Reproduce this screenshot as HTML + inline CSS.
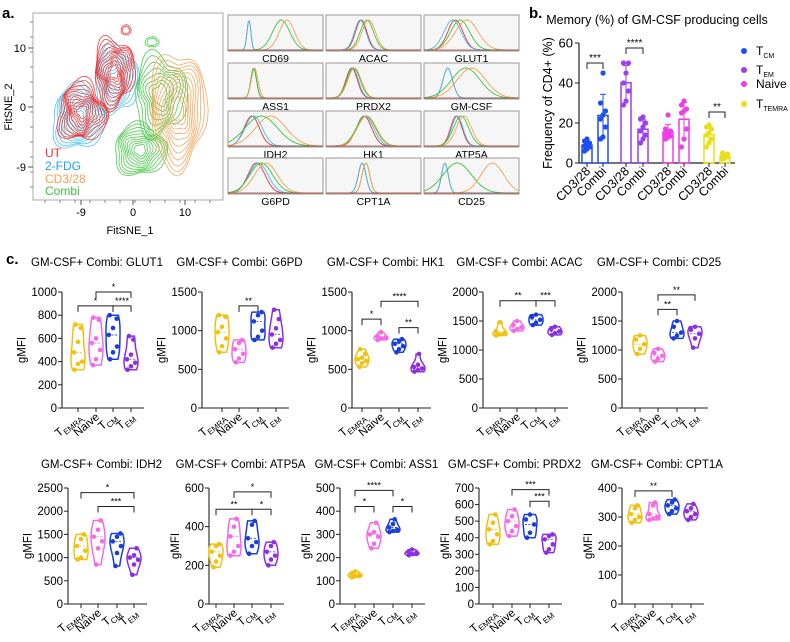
<!DOCTYPE html>
<html><head><meta charset="utf-8"><style>
html,body{margin:0;padding:0;background:#fff;}
svg{display:block;font-family:"Liberation Sans",Arial,sans-serif;}
</style></head><body>
<svg id="fig" width="790" height="642" viewBox="0 0 790 642" xmlns="http://www.w3.org/2000/svg">
<text x="2" y="18" font-size="15" font-weight="bold">a.</text>
<text x="529" y="18" font-size="15" font-weight="bold">b.</text>
<text x="6" y="264" font-size="15" font-weight="bold">c.</text>
<g id="tsne"></g>
<g id="hist"></g>
<g id="pb"></g>
<g id="pc"></g>
</svg>
<script>
// ---------- Panel b data ----------
const bGroups = ['TCM','TEM','Naive','TTEMRA'];
const bConds = ['CD3/28','Combi'];
const bTcmCD = [6,7,8,8.5,9,10,11,12];
const bTcmCombi = [12,13,18,22,24,26,30,45];
const bTemCD = [29,31,36,40,45,50,50];
const bTemCombi = [10,12,14,16,18,20,22,23];
const bNaiveCD = [12,13,13.5,14,15,16,17,24];
const bNaiveCombi = [8,12,17,25,26,27,29,31];
const bTemraCD = [8,10,12,14,15,17,18,19];
const bTemraCombi = [2,2.5,3,3.5,4,4.5,5];
const bTicks = [0,20,40,60];
const bSig = [{a:0,y:50,t:'***'},{a:2,y:57.5,t:'****'},{a:6,y:25.5,t:'**'}];

// ---------- Panel c data ----------
const vCats = ['TEMRA','Naive','TCM','TEM'];
const vTitles = ['GLUT1','G6PD','HK1','ACAC','CD25','IDH2','ATP5A','ASS1','PRDX2','CPT1A'];
const vMax = [1000,1500,1500,2000,2000,2500,600,500,700,400];
const vStep = [200,500,500,500,500,500,200,100,100,100];
const vGLUT1 = [[330,380,400,480,570,690,720],[370,420,500,560,600,760,780],[420,480,530,630,690,770,800],[330,360,390,420,460,590,620]];
const vG6PD = [[720,800,900,980,1050,1180,1200],[590,640,700,760,840,880],[880,920,1000,1120,1200,1240],[780,830,880,950,1030,1150,1270]];
const vHK1 = [[530,580,610,630,650,700,760],[880,900,910,930,980],[720,760,800,830,860,890],[470,490,510,530,560,700]];
const vACAC = [[1250,1270,1290,1320,1480],[1330,1360,1390,1430,1500],[1430,1470,1520,1570,1610],[1260,1290,1320,1360,1400]];
const vCD25 = [[930,1020,1100,1180,1250],[800,850,900,950,1020],[1200,1250,1300,1400,1500],[1040,1200,1280,1350,1400]];
const vIDH2 = [[960,1000,1150,1250,1400,1500],[850,1200,1350,1450,1600,1800],[820,1100,1250,1350,1450,1520],[630,850,950,1000,1050,1200]];
const vATP5A = [[190,220,250,270,300,310],[250,270,300,350,400,440],[260,300,320,340,410,430],[200,230,250,270,300,320]];
const vASS1 = [[115,120,125,130,140],[240,260,290,300,310,350],[310,315,320,330,345,365],[210,215,220,225,235]];
const vPRDX2 = [[360,380,420,450,490,540],[410,440,470,500,530,570],[400,430,480,510,540],[310,330,360,390,410,420]];
const vCPT1A = [[280,290,300,310,330,340],[290,295,300,310,340,350],[310,320,330,340,350,360],[290,300,310,320,330,345]];
const vSig = [
 [{a:0,b:2,y:880,t:'*'},{a:1,b:3,y:1000,t:'*'},{a:2,b:3,y:880,t:'****'}],
 [{a:1,b:2,y:1320,t:'**'}],
 [{a:0,b:1,y:1150,t:'*'},{a:1,b:3,y:1380,t:'****'},{a:2,b:3,y:1040,t:'**'}],
 [{a:0,b:2,y:1850,t:'**'},{a:2,b:3,y:1850,t:'***'}],
 [{a:1,b:2,y:1700,t:'**'},{a:1,b:3,y:1950,t:'**'}],
 [{a:0,b:3,y:2400,t:'*'},{a:1,b:3,y:2100,t:'***'}],
 [{a:0,b:2,y:490,t:'**'},{a:1,b:3,y:580,t:'*'},{a:2,b:3,y:490,t:'*'}],
 [{a:0,b:2,y:490,t:'****'},{a:0,b:1,y:420,t:'*'},{a:2,b:3,y:420,t:'*'}],
 [{a:1,b:3,y:690,t:'***'},{a:2,b:3,y:620,t:'***'}],
 [{a:0,b:2,y:390,t:'**'}]
];

// ---------- Histogram data (peak position 0-1, width) order: UT, 2-FDG, CD3/28, Combi ----------
const hMarkers = ['CD69','ACAC','GLUT1','ASS1','PRDX2','GM-CSF','IDH2','HK1','ATP5A','G6PD','CPT1A','CD25'];
const hPeaks = [[.22,.22,.62,.56],[.37,.36,.45,.43],[.33,.3,.45,.38],[.27,.27,.28,.27],[.27,.28,.3,.29],[.25,.25,.5,.44],[.25,.27,.45,.35],[.4,.41,.43,.42],[.34,.35,.42,.39],[.3,.32,.4,.35],[.38,.38,.42,.42],[.22,.22,.72,.35]];
const hWidths = [[.02,.02,.08,.09],[.06,.06,.07,.07],[.08,.09,.12,.1],[.03,.03,.035,.03],[.06,.06,.07,.07],[.05,.05,.15,.15],[.08,.09,.16,.17],[.08,.09,.1,.1],[.06,.06,.08,.08],[.09,.1,.12,.12],[.04,.04,.04,.04],[.035,.035,.12,.15]];

const NS='http://www.w3.org/2000/svg';
function mk(parent,tag,attrs,text){const e=document.createElementNS(NS,tag);for(const k in attrs)e.setAttribute(k,attrs[k]);if(text!==undefined)e.textContent=text;parent.appendChild(e);return e;}

// ---------- Panel a: tSNE ----------
(function(){
 const g=document.getElementById('tsne');
 const fr=mk(g,'rect',{x:33,y:13,width:190,height:187,fill:'none',stroke:'#aaa','stroke-width':1});
 
 
 const xt=[['-9',81],['0',133],['10',185]], yt=[['10',48],['0',107],['-9',167]];
 xt.forEach(t=>{mk(g,'line',{x1:t[1],x2:t[1],y1:200,y2:205,stroke:'#555'});const e=mk(g,'text',{x:t[1],y:216,'font-size':11,'text-anchor':'middle'},t[0]);});
 yt.forEach(t=>{mk(g,'line',{x1:28,x2:33,y1:t[1],y2:t[1],stroke:'#555'});const e=mk(g,'text',{x:26,y:t[1]+4,'font-size':11,'text-anchor':'end'},t[0]);});
 for(let i=0;i<12;i++){mk(g,'line',{x1:30,x2:33,y1:22+i*15,y2:22+i*15,stroke:'#888'});mk(g,'line',{x1:45+i*15,x2:45+i*15,y1:200,y2:203,stroke:'#888'});}
 const xl=mk(g,'text',{x:130,y:234,'font-size':11,'text-anchor':'middle'},'FitSNE_1');
 const yl=mk(g,'text',{x:12,y:107,'font-size':11,'text-anchor':'middle',transform:'rotate(-90 12 107)'},'FitSNE_2');
 function blob(cx,cy,rx,ry,ph,n,color,amp){
  for(let l=0;l<n;l++){const s=1-l/(n+1.5);let d='';
   for(let k=0;k<=40;k++){const a=k/40*Math.PI*2;const r=1+amp*Math.sin(3*a+ph+l*0.4)+amp*0.6*Math.cos(5*a+ph*2-l*0.3);
    const x=cx+rx*s*r*Math.cos(a),y=cy+ry*s*r*Math.sin(a);d+=(k?'L':'M')+x.toFixed(1)+' '+y.toFixed(1);}
   mk(g,'path',{d:d+'Z',fill:'none',stroke:color,'stroke-width':0.8,opacity:0.9});}
 }
 const cy='#3ec0f0',rd='#ee3030',or='#f5a050',gr='#3cc43c';
 blob(78,118,26,32,0.5,9,cy,0.12); blob(116,80,22,34,1.2,8,cy,0.12);
 blob(82,112,24,30,0.2,11,rd,0.15); blob(114,72,20,34,2.0,11,rd,0.14);
 blob(140,150,26,26,0.8,10,gr,0.1); blob(160,95,26,40,1.5,8,gr,0.14); blob(152,42,7,5,0,2,gr,0.05);
 blob(178,110,28,58,2.5,11,or,0.1);
 blob(126,30,5,5,0,2,rd,0.05);
 const leg=[['UT',rd,153],['2-FDG','#1aa8e8',166],['CD3/28',or,179],['Combi',gr,191]];
 leg.forEach(l=>{const e=mk(g,'text',{x:45,y:l[2]+4,'font-size':12,fill:l[1]},l[0]);});
})();

// ---------- Histogram grid ----------
(function(){
 const g=document.getElementById('hist');
 const cols=[228,326,424], rows=[15,63,111,158], W=95, H=36;
 const colors=['#ee3030','#3ec0f0','#f5a050','#3cc43c'];
 hMarkers.forEach((m,i)=>{
  const x0=cols[i%3], y0=rows[Math.floor(i/3)];
  const r=mk(g,'rect',{x:x0,y:y0,width:W,height:H,fill:'#f6f6f6',stroke:'#999','stroke-width':1});
  
  
  [0,1,3,2].forEach(c=>{
   const p=hPeaks[i][c], w=hWidths[i][c]; let d='';
   for(let k=0;k<=80;k++){const t=k/80;const v=Math.exp(-0.5*Math.pow((t-p)/w,2));
    d+=(k?'L':'M')+(x0+t*W).toFixed(1)+' '+(y0+H-1-v*(H-6)).toFixed(1);}
   const pa=mk(g,'path',{d:d,fill:'none',stroke:colors[c],'stroke-width':0.9});
   
   
  });
  mk(g,'line',{x1:x0,x2:x0+W,y1:y0+H-1,y2:y0+H-1,stroke:'#a04040','stroke-width':0.8});
  const t=mk(g,'text',{x:x0+W/2,y:y0+H+11,'font-size':10.5,'text-anchor':'middle'},m);
  
  
 });
})();

// ---------- Panel b ----------
(function(){
 const g=document.getElementById('pb');
 const X0=579, Y0=163, Y1=43, yMax=60;
 const ys=v=>Y0-(v/yMax)*(Y0-Y1);
 const xs=[587,603,626,643,668,684,709,725];
 const cols=['#1e4ff0','#9b3ff0','#f03ee6','#eadf1a'];
 const series=[bTcmCD,bTcmCombi,bTemCD,bTemCombi,bNaiveCD,bNaiveCombi,bTemraCD,bTemraCombi];
 const tt=mk(g,'text',{x:657,y:24,'font-size':12.5,'text-anchor':'middle'},'Memory (%) of GM-CSF producing cells');
 
 mk(g,'line',{x1:X0,x2:X0,y1:Y1,y2:Y0,stroke:'#222','stroke-width':1.2});
 mk(g,'line',{x1:X0,x2:735,y1:Y0,y2:Y0,stroke:'#222','stroke-width':1.2});
 bTicks.forEach(v=>{mk(g,'line',{x1:X0-4,x2:X0,y1:ys(v),y2:ys(v),stroke:'#222'});
  const e=mk(g,'text',{x:X0-6,y:ys(v)+4.5,'font-size':13,'text-anchor':'end'},v);});
 const yl=mk(g,'text',{x:552,y:103,'font-size':12.5,'text-anchor':'middle',transform:'rotate(-90 552 103)'},'Frequency of  CD4+ (%)');
 
 series.forEach((s,i)=>{
  const col=cols[Math.floor(i/2)], x=xs[i];
  const mean=s.reduce((a,b)=>a+b,0)/s.length;
  const sd=Math.sqrt(s.reduce((a,b)=>a+(b-mean)*(b-mean),0)/(s.length-1));
  const bar=mk(g,'rect',{x:x-5,y:ys(mean),width:10,height:Y0-ys(mean),fill:'none',stroke:col,'stroke-width':1.5});
  
  
  mk(g,'line',{x1:x,x2:x,y1:ys(mean+sd),y2:ys(Math.max(0,mean-sd)),stroke:col,'stroke-width':1});
  mk(g,'line',{x1:x-3,x2:x+3,y1:ys(mean+sd),y2:ys(mean+sd),stroke:col,'stroke-width':1});
  s.forEach((v,j)=>{const c=mk(g,'circle',{cx:x+((j%3)-1)*2.5,cy:ys(v),r:2.6,fill:col});
   });
  mk(g,'line',{x1:x,x2:x,y1:Y0,y2:Y0+4,stroke:'#222'});
  const lb=mk(g,'text',{x:x+4,y:Y0+9,'font-size':12.5,'text-anchor':'end',transform:`rotate(-45 ${x+4} ${Y0+9})`},bConds[i%2]);
  
 });
 bSig.forEach(b=>{const x1=xs[b.a],x2=xs[b.a+1],y=ys(b.y);
  mk(g,'path',{d:`M${x1} ${y+6}V${y}H${x2}V${y+6}`,fill:'none',stroke:'#222','stroke-width':1});
  const t=mk(g,'text',{x:(x1+x2)/2,y:y-2,'font-size':10,'text-anchor':'middle'},b.t);
  });
 const legs=[['T','CM',51],['T','EM',70],['Naive','',84],['T','TEMRA',104]];
 legs.forEach((l,i)=>{const c=mk(g,'circle',{cx:744,cy:l[2],r:3,fill:cols[i]});
  
  const t=mk(g,'text',{x:756,y:l[2]+4,'font-size':12},l[0]);
  if(l[1]) mk(t,'tspan',{dy:3,'font-size':7},l[1]);
  });
})();

// ---------- Panel c: violins ----------
(function(){
 const g=document.getElementById('pc');
 const data=[vGLUT1,vG6PD,vHK1,vACAC,vCD25,vIDH2,vATP5A,vASS1,vPRDX2,vCPT1A];
 const axX=[62,202,352,483,622,68,209,340,479,622];
 const tickX=[[78,96,113,131],[222,239,258,276],[362,381,399,418],[500,517,536,555],[640,658,677,695],[81,98,117,134],[216,234,252,271],[355,374,393,412],[493,512,530,549],[635,653,672,691]];
 const colors=['#f2c10f','#f56ae6','#1a3fd6','#8c2fe0'];
 data.forEach((groups,p)=>{
  const row=p<5?0:1;
  const Ytop=row?488:292, Ybot=row?604:408;
  const ys=v=>Ybot-(v/vMax[p])*(Ybot-Ytop);
  const ax=axX[p], tx=tickX[p], xEnd=tx[3]+13;
  const title=mk(g,'text',{x:(ax+xEnd)/2-6,y:row?468:266,'font-size':11.5,'text-anchor':'middle'},'GM-CSF+ Combi: '+vTitles[p]);
  
  mk(g,'line',{x1:ax,x2:ax,y1:Ytop,y2:Ybot,stroke:'#222','stroke-width':1.1});
  mk(g,'line',{x1:ax,x2:xEnd,y1:Ybot,y2:Ybot,stroke:'#222','stroke-width':1.1});
  let maxLen=0;
  for(let v=0;v<=vMax[p];v+=vStep[p]){mk(g,'line',{x1:ax-4,x2:ax,y1:ys(v),y2:ys(v),stroke:'#222'});
   maxLen=Math.max(maxLen,String(v).length);
   const e=mk(g,'text',{x:ax-5,y:ys(v)+4,'font-size':11.5,'text-anchor':'end'},v);
   }
  const lx=ax-maxLen*6.6-10, ly=(Ytop+Ybot)/2;
  const yl=mk(g,'text',{x:lx,y:ly,'font-size':11.5,'text-anchor':'middle',transform:`rotate(-90 ${lx} ${ly})`},'gMFI');
  
  groups.forEach((pts,i)=>{
   const x=tx[i], col=colors[i];
   const mn=Math.min(...pts), mx=Math.max(...pts), bw=Math.max((mx-mn)*0.28,vMax[p]*0.01);
   const dens=v=>pts.reduce((a,q)=>a+Math.exp(-0.5*Math.pow((v-q)/bw,2)),0);
   let maxD=0;const N=24,vals=[];
   for(let k=0;k<=N;k++){const v=mn+(mx-mn)*k/N;const d=dens(v);vals.push([v,d]);maxD=Math.max(maxD,d);}
   let dr='',dl='';
   vals.forEach((vd,k)=>{const w=Math.max(1.5,7*vd[1]/maxD);dr+=(k?'L':'M')+(x+w).toFixed(1)+' '+ys(vd[0]).toFixed(1);});
   vals.slice().reverse().forEach(vd=>{const w=Math.max(1.5,7*vd[1]/maxD);dl+='L'+(x-w).toFixed(1)+' '+ys(vd[0]).toFixed(1);});
   const vp=mk(g,'path',{d:dr+dl+'Z',fill:'#fff','fill-opacity':0.6,stroke:col,'stroke-width':1.5});
   
   const sorted=pts.slice().sort((a,b)=>a-b), med=sorted[Math.floor(sorted.length/2)];
   mk(g,'line',{x1:x-5,x2:x+5,y1:ys(med),y2:ys(med),stroke:col,'stroke-width':0.8,'stroke-dasharray':'2 1.5'});
   pts.forEach((v,j)=>{const w=Math.max(1.5,7*dens(v)/maxD);const c=mk(g,'circle',{cx:x+((j%3)-1)*w*0.6,cy:ys(v),r:2.3,fill:col});
    });
   mk(g,'line',{x1:x,x2:x,y1:Ybot,y2:Ybot+4,stroke:'#222'});
   const lbx=x+4, lby=Ybot+10;
   const lb=mk(g,'text',{x:lbx,y:lby,'font-size':11.5,'text-anchor':'end',transform:`rotate(-40 ${lbx} ${lby})`});
   if(vCats[i]==='Naive'){lb.textContent='Naive';}
   else{lb.textContent='T';mk(lb,'tspan',{dy:3,'font-size':8},vCats[i].substring(1));}
   
  });
  vSig[p].forEach(b=>{const x1=tx[b.a],x2=tx[b.b],y=ys(b.y);
   mk(g,'path',{d:`M${x1} ${y+6}V${y}H${x2}V${y+6}`,fill:'none',stroke:'#222','stroke-width':1});
   const t=mk(g,'text',{x:(x1+x2)/2,y:y-2,'font-size':9,'text-anchor':'middle'},b.t);
   });
 });
})();
</script>
</body></html>
